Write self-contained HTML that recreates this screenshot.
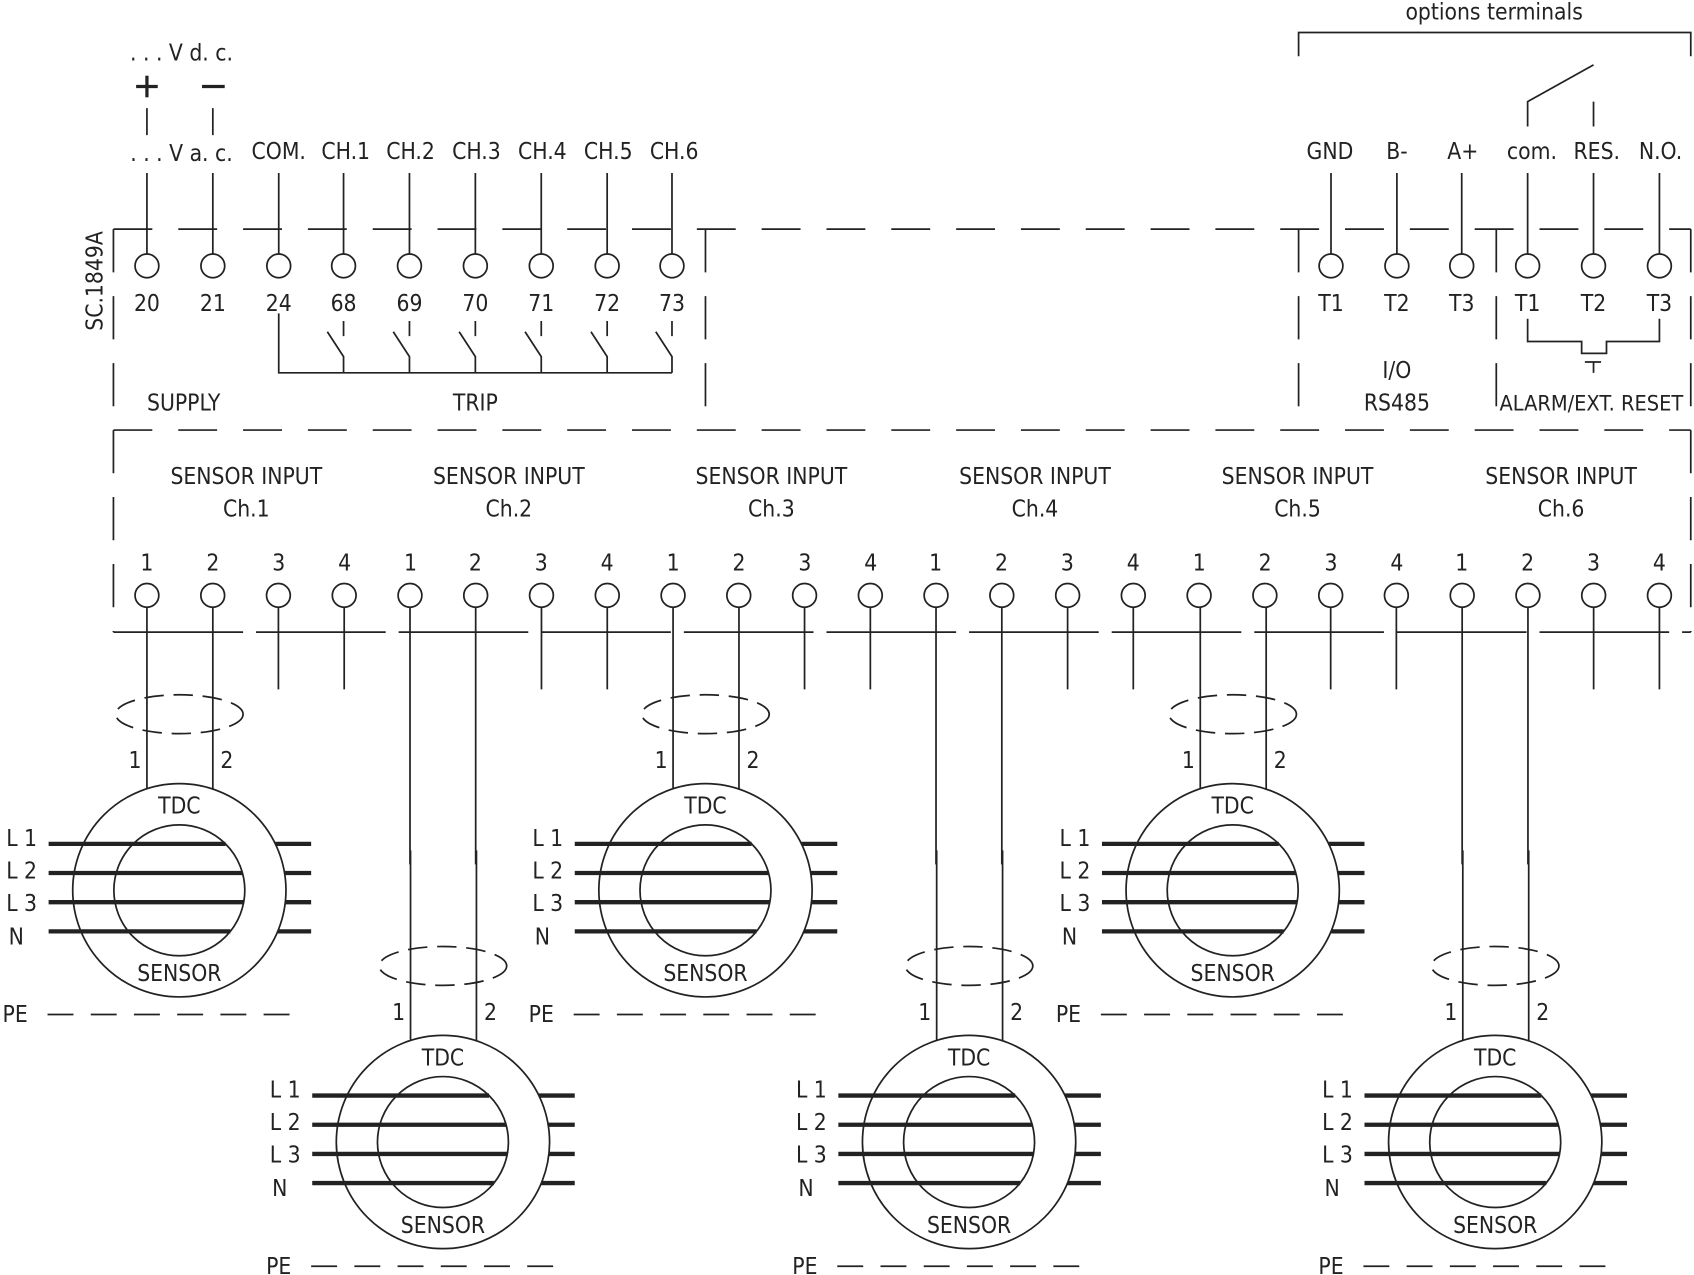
<!DOCTYPE html>
<html><head><meta charset="utf-8"><style>
html,body{margin:0;padding:0;background:#fff}
svg{display:block}
text{font-family:"DejaVu Sans Condensed","Liberation Sans",sans-serif;font-size:21px;fill:#222;text-anchor:middle;font-weight:300}
</style></head><body>
<svg width="1694" height="1275" viewBox="0 0 1568 1180" xmlns="http://www.w3.org/2000/svg">
<defs>
<g id="sens" stroke="#222" fill="none">
<circle r="98.7" stroke-width="1.6"/>
<circle r="60.6" stroke-width="1.6"/>
<g stroke-width="4">
<line x1="-121" y1="-43" x2="42.7" y2="-43"/><line x1="-121" y1="-16" x2="58.4" y2="-16"/>
<line x1="-121" y1="11" x2="59.6" y2="11"/><line x1="-121" y1="38" x2="47.2" y2="38"/>
<line x1="88.8" y1="-43" x2="122" y2="-43"/><line x1="97.4" y1="-16" x2="122" y2="-16"/>
<line x1="98.1" y1="11" x2="122" y2="11"/><line x1="91.1" y1="38" x2="122" y2="38"/>
</g>
<line x1="-30" y1="-94" x2="-30" y2="-270" stroke-width="1.6"/>
<line x1="31" y1="-93" x2="31" y2="-270" stroke-width="1.6"/>
<ellipse cx="0" cy="-163" rx="59" ry="18" stroke-width="1.6" stroke-dasharray="18,9"/>
<line x1="-122" y1="115" x2="110" y2="115" stroke-width="1.6" stroke-dasharray="24,16"/>
</g>
<circle id="t" r="11" fill="#fff" stroke="#222" stroke-width="1.6"/>
</defs>
<g stroke="#222" stroke-width="1.6" fill="none">
<!-- frame -->
<line x1="105" y1="212" x2="1565" y2="212" stroke-dasharray="36,24"/>
<line x1="105" y1="398" x2="1565" y2="398" stroke-dasharray="36,24"/>
<line x1="105" y1="585" x2="1565" y2="585" stroke-dasharray="120,12"/>
<line x1="105" y1="212" x2="105" y2="585" stroke-dasharray="40,22"/>
<line x1="653" y1="212" x2="653" y2="398" stroke-dasharray="40,22"/>
<line x1="1202" y1="212" x2="1202" y2="398" stroke-dasharray="40,22"/>
<line x1="1385" y1="212" x2="1385" y2="398" stroke-dasharray="40,22"/>
<line x1="1565" y1="212" x2="1565" y2="585" stroke-dasharray="40,22"/>
<!-- top supply -->
<line x1="136" y1="100" x2="136" y2="125"/><line x1="197" y1="100" x2="197" y2="125"/>
<line x1="126" y1="80" x2="146" y2="80" stroke-width="3"/><line x1="136" y1="70" x2="136" y2="90" stroke-width="3"/>
<line x1="187" y1="80" x2="208" y2="80" stroke-width="3"/>
<!-- top terminal leads -->
<path d="M136 160V235M197 160V235M258 160V235M318 160V235M379 160V235M440 160V235M501 160V235M562 160V235M622 160V235"/>
<path d="M1232 160V235M1293 160V235M1353 160V235M1414 160V235M1475 160V235M1536 160V235"/>
<!-- trip -->
<path d="M258 290V345H622"/>
<path d="M318 297V311M303 307L318 330V345M379 297V311M364 307L379 330V345M440 297V311M425 307L440 330V345M501 297V311M486 307L501 330V345M562 297V311M547 307L562 330V345M622 297V311M607 307L622 330V345"/>
<!-- alarm -->
<path d="M1414 117V94L1475 60M1475 94V117"/>
<path d="M1414 295V316H1464V327H1487V316H1536V295M1467 335H1482M1475 335V345"/>
<!-- options bracket -->
<path d="M1202 52V30H1565V52"/>
<!-- bottom leads -->
<path d="M257.7 562V638M318.6 562V638M501.2 562V638M562.1 562V638M744.7 562V638M805.6 562V638M988.2 562V638M1049 562V638M1231.7 562V638M1292.5 562V638M1475.1 562V638M1536 562V638"/>
<!-- long wires for lower sensors -->
<path d="M379.5 562V800M440.3 562V800M866.4 562V800M927.3 562V800M1353.4 562V800M1414.3 562V800"/>
</g>
<use href="#sens" x="166" y="824"/><use href="#sens" x="410" y="1057"/>
<use href="#sens" x="653" y="824"/><use href="#sens" x="897" y="1057"/>
<use href="#sens" x="1141" y="824"/><use href="#sens" x="1384" y="1057"/>
<!-- terminals -->
<use href="#t" x="136" y="246"/><use href="#t" x="197" y="246"/><use href="#t" x="258" y="246"/><use href="#t" x="318" y="246"/><use href="#t" x="379" y="246"/><use href="#t" x="440" y="246"/><use href="#t" x="501" y="246"/><use href="#t" x="562" y="246"/><use href="#t" x="622" y="246"/>
<use href="#t" x="1232" y="246"/><use href="#t" x="1293" y="246"/><use href="#t" x="1353" y="246"/><use href="#t" x="1414" y="246"/><use href="#t" x="1475" y="246"/><use href="#t" x="1536" y="246"/>
<use href="#t" x="136" y="551"/><use href="#t" x="196.9" y="551"/><use href="#t" x="257.7" y="551"/><use href="#t" x="318.6" y="551"/><use href="#t" x="379.5" y="551"/><use href="#t" x="440.3" y="551"/><use href="#t" x="501.2" y="551"/><use href="#t" x="562.1" y="551"/><use href="#t" x="623" y="551"/><use href="#t" x="683.8" y="551"/><use href="#t" x="744.7" y="551"/><use href="#t" x="805.6" y="551"/><use href="#t" x="866.4" y="551"/><use href="#t" x="927.3" y="551"/><use href="#t" x="988.2" y="551"/><use href="#t" x="1049" y="551"/><use href="#t" x="1109.9" y="551"/><use href="#t" x="1170.8" y="551"/><use href="#t" x="1231.7" y="551"/><use href="#t" x="1292.5" y="551"/><use href="#t" x="1353.4" y="551"/><use href="#t" x="1414.3" y="551"/><use href="#t" x="1475.1" y="551"/><use href="#t" x="1536" y="551"/>
<!-- texts -->
<text x="1383" y="18">options terminals</text>
<text x="168" y="56">. . . V  d. c.</text>
<text x="168" y="149">. . . V  a. c.</text>
<text x="258" y="147">COM.</text><text x="320" y="147">CH.1</text><text x="380" y="147">CH.2</text><text x="441" y="147">CH.3</text><text x="502" y="147">CH.4</text><text x="563" y="147">CH.5</text><text x="624" y="147">CH.6</text>
<text x="1231" y="147">GND</text><text x="1293" y="147">B-</text><text x="1354" y="147">A+</text><text x="1418" y="147">com.</text><text x="1478" y="147">RES.</text><text x="1537" y="147">N.O.</text>
<text x="136" y="288">20</text><text x="197" y="288">21</text><text x="258" y="288">24</text><text x="318" y="288">68</text><text x="379" y="288">69</text><text x="440" y="288">70</text><text x="501" y="288">71</text><text x="562" y="288">72</text><text x="622" y="288">73</text>
<text x="1232" y="288">T1</text><text x="1293" y="288">T2</text><text x="1353" y="288">T3</text><text x="1414" y="288">T1</text><text x="1475" y="288">T2</text><text x="1536" y="288">T3</text>
<text x="1293" y="350">I/O</text><text x="1293" y="380">RS485</text><text x="1473" y="380" style="font-size:20px">ALARM/EXT. RESET</text>
<text x="170" y="380">SUPPLY</text><text x="440" y="380">TRIP</text>
<text transform="translate(95,260) rotate(-90)">SC.1849A</text>
<text x="228" y="448">SENSOR INPUT</text><text x="228" y="478">Ch.1</text>
<text x="471" y="448">SENSOR INPUT</text><text x="471" y="478">Ch.2</text>
<text x="714" y="448">SENSOR INPUT</text><text x="714" y="478">Ch.3</text>
<text x="958" y="448">SENSOR INPUT</text><text x="958" y="478">Ch.4</text>
<text x="1201" y="448">SENSOR INPUT</text><text x="1201" y="478">Ch.5</text>
<text x="1445" y="448">SENSOR INPUT</text><text x="1445" y="478">Ch.6</text>
<g>
<text x="136" y="528">1</text><text x="197" y="528">2</text><text x="258" y="528">3</text><text x="319" y="528">4</text><text x="380" y="528">1</text><text x="440" y="528">2</text><text x="501" y="528">3</text><text x="562" y="528">4</text><text x="623" y="528">1</text><text x="684" y="528">2</text><text x="745" y="528">3</text><text x="806" y="528">4</text><text x="866" y="528">1</text><text x="927" y="528">2</text><text x="988" y="528">3</text><text x="1049" y="528">4</text><text x="1110" y="528">1</text><text x="1171" y="528">2</text><text x="1232" y="528">3</text><text x="1293" y="528">4</text><text x="1353" y="528">1</text><text x="1414" y="528">2</text><text x="1475" y="528">3</text><text x="1536" y="528">4</text>
</g>
<g>
<text x="125" y="711">1</text><text x="210" y="711">2</text><text x="166" y="753">TDC</text><text x="166" y="908">SENSOR</text>
<text x="20" y="783">L 1</text><text x="20" y="813">L 2</text><text x="20" y="843">L 3</text><text x="15" y="874">N</text><text x="14" y="946">PE</text>
<text x="612" y="711">1</text><text x="697" y="711">2</text><text x="653" y="753">TDC</text><text x="653" y="908">SENSOR</text>
<text x="507" y="783">L 1</text><text x="507" y="813">L 2</text><text x="507" y="843">L 3</text><text x="502" y="874">N</text><text x="501" y="946">PE</text>
<text x="1100" y="711">1</text><text x="1185" y="711">2</text><text x="1141" y="753">TDC</text><text x="1141" y="908">SENSOR</text>
<text x="995" y="783">L 1</text><text x="995" y="813">L 2</text><text x="995" y="843">L 3</text><text x="990" y="874">N</text><text x="989" y="946">PE</text>
<text x="369" y="944">1</text><text x="454" y="944">2</text><text x="410" y="986">TDC</text><text x="410" y="1141">SENSOR</text>
<text x="264" y="1016">L 1</text><text x="264" y="1046">L 2</text><text x="264" y="1076">L 3</text><text x="259" y="1107">N</text><text x="258" y="1179">PE</text>
<text x="856" y="944">1</text><text x="941" y="944">2</text><text x="897" y="986">TDC</text><text x="897" y="1141">SENSOR</text>
<text x="751" y="1016">L 1</text><text x="751" y="1046">L 2</text><text x="751" y="1076">L 3</text><text x="746" y="1107">N</text><text x="745" y="1179">PE</text>
<text x="1343" y="944">1</text><text x="1428" y="944">2</text><text x="1384" y="986">TDC</text><text x="1384" y="1141">SENSOR</text>
<text x="1238" y="1016">L 1</text><text x="1238" y="1046">L 2</text><text x="1238" y="1076">L 3</text><text x="1233" y="1107">N</text><text x="1232" y="1179">PE</text>
</g>
</svg>
</body></html>
